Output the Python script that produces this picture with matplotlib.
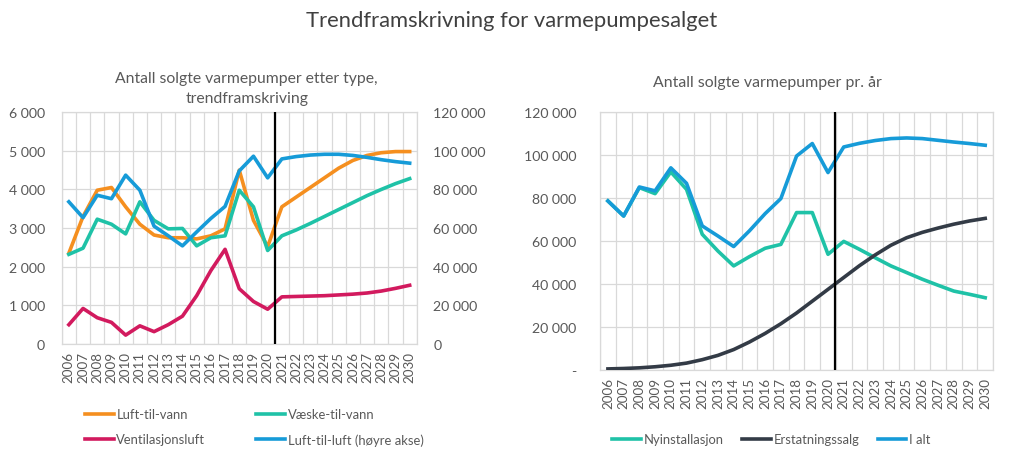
import matplotlib
matplotlib.use("Agg")
import matplotlib.pyplot as plt
from matplotlib.ticker import FuncFormatter, MultipleLocator, FixedLocator

plt.rcParams['font.family'] = ['Lato', 'DejaVu Sans']

years = list(range(2006, 2031))

# Left chart (left axis)
luft_til_vann = [2350, 3300, 3980, 4050, 3550, 3100, 2820, 2750, 2750, 2720, 2800, 2980,
                 4500, 3200, 2520, 3550, 3800, 4050, 4300, 4550, 4750, 4880, 4950, 4980, 4980]
vaeske_til_vann = [2320, 2480, 3230, 3100, 2850, 3680, 3200, 2980, 2990, 2540, 2750, 2800,
                   3980, 3550, 2420, 2800, 2950, 3120, 3300, 3480, 3660, 3840, 4000, 4150, 4280]
ventilasjonsluft = [500, 920, 680, 560, 230, 470, 320, 500, 720, 1250, 1900, 2450,
                    1430, 1100, 900, 1220, 1230, 1240, 1250, 1270, 1290, 1320, 1370, 1440, 1520]
# Left chart (right axis)
luft_til_luft = [73600, 65400, 77000, 75200, 87400, 79600, 61000, 56000, 50800, 58000, 65000, 71200,
                 89600, 97200, 86000, 95800, 97000, 97800, 98200, 98200, 97600, 96600, 95400, 94400, 93600]

# Right chart
nyinstallasjon = [78600, 71600, 84800, 82000, 92100, 84000, 63100, 55300, 48400, 52700, 56600, 58400,
                  73200, 73200, 53800, 59800, 56100, 52200, 48400, 45300, 42200, 39400, 36700, 35200, 33600]
erstatningssalg = [500, 700, 1000, 1500, 2200, 3200, 4800, 6800, 9500, 13000, 17000, 21500,
                   26500, 32000, 37500, 43000, 48500, 53500, 58000, 61500, 64000, 66000, 67800, 69300, 70500]
i_alt = [78600, 71600, 85100, 83300, 94000, 86800, 67000, 62300, 57400, 64700, 72700, 79700,
         99500, 105300, 91800, 103700, 105400, 106700, 107600, 107900, 107600, 106800, 106000, 105300, 104500]

C_ORANGE = '#f58f1f'
C_TEAL = '#1fc2a7'
C_MAGENTA = '#d21a5e'
C_BLUE = '#169bd8'
C_DARK = '#333b46'
C_TXT = '#595959'
C_GRID = '#d9d9d9'

LW = 2.6
TICK_FS = 9.6
LEG_FS = 9.4

def fmt_space(v, pos=None):
    v = int(round(v))
    return f"{v:,}".replace(",", " ")

def fmt_dash(v, pos=None):
    if abs(v) < 1e-9:
        return '-'
    return fmt_space(v)

fig = plt.figure(figsize=(10.24, 4.6), dpi=100)

x = list(range(len(years)))

def style_axis(ax):
    ax.set_xlim(-0.5, len(years) - 0.5)
    ax.set_xticks(x)
    ax.set_xticklabels([str(y) for y in years], rotation=90, fontsize=TICK_FS, color=C_TXT)
    ax.xaxis.set_minor_locator(FixedLocator([i - 0.5 for i in range(len(years) + 1)]))
    ax.grid(True, which='minor', axis='x', color=C_GRID, lw=0.9)
    ax.grid(True, which='major', axis='y', color=C_GRID, lw=0.9)
    ax.tick_params(axis='both', which='both', length=0, pad=5)
    ax.tick_params(axis='y', labelsize=TICK_FS + 0.6, labelcolor=C_TXT)
    for s in ax.spines.values():
        s.set_color(C_GRID)
        s.set_linewidth(0.9)
    ax.set_axisbelow(True)

# ---- Left chart ----
axL = fig.add_axes([0.0603, 0.25, 0.3467, 0.504])
style_axis(axL)
axL.set_ylim(0, 6000)
axL.yaxis.set_major_locator(MultipleLocator(1000))
axL.yaxis.set_major_formatter(FuncFormatter(fmt_space))
axL.tick_params(axis='y', pad=12)
axL2 = axL.twinx()
axL2.set_ylim(0, 120000)
axL2.yaxis.set_major_locator(MultipleLocator(20000))
axL2.yaxis.set_major_formatter(FuncFormatter(fmt_space))
axL2.tick_params(axis='y', length=0, labelsize=TICK_FS + 0.6, labelcolor=C_TXT, pad=12)
for s in axL2.spines.values():
    s.set_visible(False)

l1, = axL.plot(x, luft_til_vann, color=C_ORANGE, lw=LW, label='Luft-til-vann', zorder=3)
l2, = axL.plot(x, vaeske_til_vann, color=C_TEAL, lw=LW, label='Væske-til-vann', zorder=3)
l3, = axL.plot(x, ventilasjonsluft, color=C_MAGENTA, lw=LW, label='Ventilasjonsluft', zorder=3)
l4, = axL2.plot(x, luft_til_luft, color=C_BLUE, lw=LW, label='Luft-til-luft (høyre akse)', zorder=3)
axL2.axvline(14.53, color='black', lw=1.6, zorder=5)

fig.text(0.241, 0.807, 'Antall solgte varmepumper etter type,\ntrendframskriving',
         ha='center', va='center', fontsize=11.3, color=C_TXT, linespacing=1.55)

fig.legend([l1, l3, l2, l4], [h.get_label() for h in [l1, l3, l2, l4]],
           ncol=2, loc='upper left', bbox_to_anchor=(0.078, 0.122), frameon=False,
           fontsize=LEG_FS, handlelength=2.2, handletextpad=0.2, columnspacing=3.9,
           labelspacing=1.0, borderaxespad=0, labelcolor=C_TXT)

# ---- Right chart ----
axR = fig.add_axes([0.586, 0.1935, 0.3838, 0.561])
style_axis(axR)
axR.set_ylim(0, 120000)
axR.yaxis.set_major_locator(MultipleLocator(20000))
axR.yaxis.set_major_formatter(FuncFormatter(fmt_dash))
axR.tick_params(axis='y', pad=17)

r1, = axR.plot(x, nyinstallasjon, color=C_TEAL, lw=LW, label='Nyinstallasjon', zorder=3)
r2, = axR.plot(x, erstatningssalg, color=C_DARK, lw=LW, label='Erstatningssalg', zorder=3)
r3, = axR.plot(x, i_alt, color=C_BLUE, lw=LW, label='I alt', zorder=3)
axR.axvline(14.43, color='black', lw=1.6, zorder=5)

fig.text(0.749, 0.82, 'Antall solgte varmepumper pr. år',
         ha='center', va='center', fontsize=11.4, color=C_TXT)

fig.legend([r1, r2, r3], [h.get_label() for h in [r1, r2, r3]],
           ncol=3, loc='center left', bbox_to_anchor=(0.593, 0.043), frameon=False,
           fontsize=LEG_FS, handlelength=2.2, handletextpad=0.2, columnspacing=1.4,
           borderaxespad=0, labelcolor=C_TXT)

fig.text(0.5, 0.955, 'Trendframskrivning for varmepumpesalget', ha='center', va='center',
         fontsize=15.8, color='#404040')

fig.savefig('out.png', dpi=100)
